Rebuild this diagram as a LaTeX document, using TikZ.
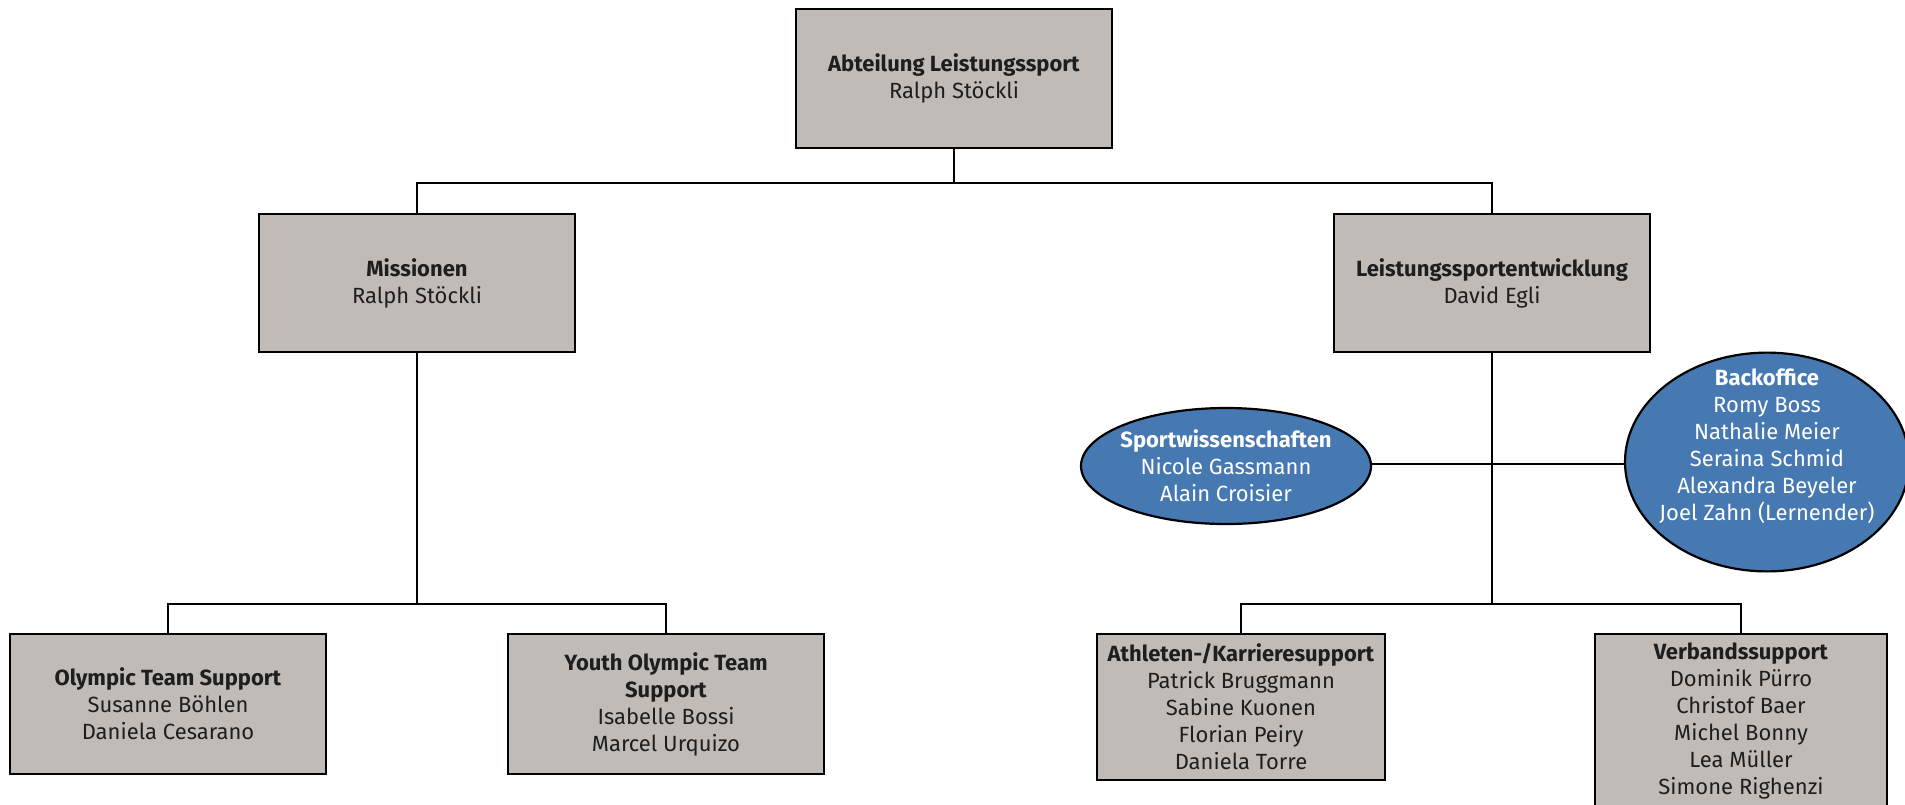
\documentclass[tikz,border=0pt]{standalone}
\usepackage{fontspec}
\setmainfont{Fira Sans}
\usetikzlibrary{shapes.geometric}
\definecolor{boxfill}{RGB}{193,187,183}
\definecolor{ellfill}{RGB}{70,120,178}
\definecolor{txt}{RGB}{30,30,30}
\tikzset{
  orgbox/.style={draw=black, line width=1.4pt, fill=boxfill, rectangle, inner sep=0pt,
    align=center, text=txt, font=\fontsize{11}{13.5}\selectfont},
  orgell/.style={draw=black, line width=1.1pt, fill=ellfill, ellipse, inner sep=-8pt,
    align=center, text=white, font=\fontsize{11}{13.5}\selectfont},
  link/.style={draw=black, line width=1pt}
}
\begin{document}
\begin{tikzpicture}[x=0.5pt,y=-0.5pt]
\clip (0,0) rectangle (1905,804);
\fill[white] (0,0) rectangle (1905,804);
% boxes
\node[orgbox, minimum width=158pt, minimum height=69.5pt] (top) at (954,78.5)
  {\textbf{Abteilung Leistungssport}\\Ralph Stöckli};
\node[orgbox, minimum width=158pt, minimum height=69pt] (miss) at (417,283)
  {\textbf{Missionen}\\Ralph Stöckli};
\node[orgbox, minimum width=158pt, minimum height=69pt] (lse) at (1492,283)
  {\textbf{Leistungssportentwicklung}\\David Egli};
\node[orgbox, minimum width=158pt, minimum height=70pt] (oly) at (168,704)
  {\textbf{Olympic Team Support}\\Susanne Böhlen\\Daniela Cesarano};
\node[orgbox, minimum width=158pt, minimum height=70pt] (yoly) at (666,704)
  {\textbf{Youth Olympic Team}\\\textbf{Support}\\Isabelle Bossi\\Marcel Urquizo};
\node[orgbox, minimum width=144pt, minimum height=73pt] (ath) at (1241,707)
  {\textbf{Athleten-/Karrieresupport}\\Patrick Bruggmann\\Sabine Kuonen\\Florian Peiry\\Daniela Torre};
\node[orgbox, minimum width=146pt, minimum height=87pt] (verb) at (1741,721)
  {\textbf{Verbandssupport}\\Dominik Pürro\\Christof Baer\\Michel Bonny\\Lea Müller\\Simone Righenzi};
% ellipses
\node[orgell, minimum width=145pt, minimum height=58pt] (sport) at (1226,466)
  {\textbf{Sportwissenschaften}\\Nicole Gassmann\\Alain Croisier};
\node[orgell, minimum width=142pt, minimum height=100.5pt] (back) at (1767,462)
  {\textbf{Backoffice}\\Romy Boss\\Nathalie Meier\\Seraina Schmid\\Alexandra Beyeler\\Joel Zahn (Lernender)\\[4pt]};
% junctions
\coordinate (j1) at (954,183);
\coordinate (j2) at (417,604);
\coordinate (j3) at (1492,604);
\coordinate (j4) at (1492,464);
% connectors
\draw[link] (top.south) -- (j1);
\draw[link] (miss.north) |- (j1) -| (lse.north);
\draw[link] (miss.south) -- (j2);
\draw[link] (oly.north) |- (j2) -| (yoly.north);
\draw[link] (lse.south) -- (j3);
\draw[link] (ath.north) |- (j3) -| (verb.north);
\draw[link] (sport.east |- j4) -- (j4) -- (back.west |- j4);
\end{tikzpicture}
\end{document}
